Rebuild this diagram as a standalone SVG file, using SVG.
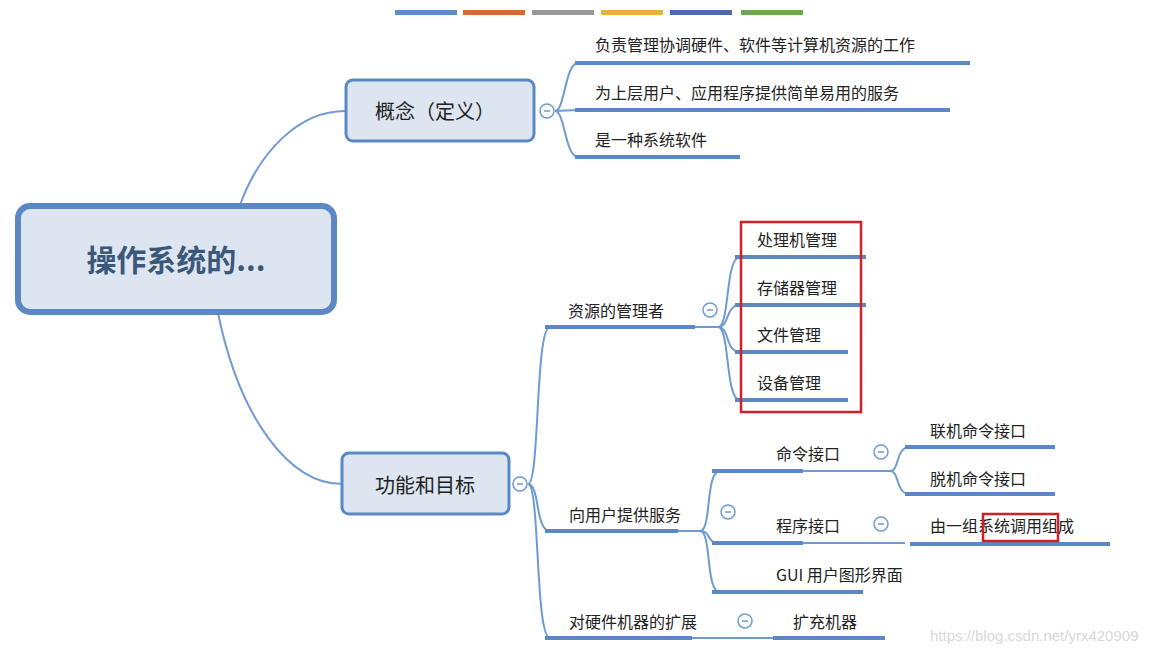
<svg xmlns="http://www.w3.org/2000/svg" width="1159" height="653" viewBox="0 0 1159 653">
<style>
text{font-family:"Noto Sans CJK SC","Liberation Sans",sans-serif;fill:#222}
.t{font-size:16px}
.u{stroke:#5b87c5;stroke-width:4;fill:none}
.b{stroke:#6f9bd0;stroke-width:2;fill:none}
.c{fill:#fff;stroke:#6f9bd0;stroke-width:1.5}
.red{fill:none;stroke:#d0202a;stroke-width:2.5}
</style>
<rect width="1159" height="653" fill="#fff"/>
<g id="bars">
<rect x="395" y="10" width="62" height="5" fill="#5b8fc8"/>
<rect x="463" y="10" width="62" height="5" fill="#d46a3a"/>
<rect x="532" y="10" width="62" height="5" fill="#999"/>
<rect x="601" y="10" width="62" height="5" fill="#e6b23a"/>
<rect x="670" y="10" width="62" height="5" fill="#4a6aab"/>
<rect x="741" y="10" width="62" height="5" fill="#6aa84f"/>
</g>
<g id="connectors">
<path class="b" d="M240 205 C260 150 300 111 345 111"/>
<path class="b" d="M218 313 C240 420 290 484 342 484"/>
<path class="b" d="M555 111 C565 111 565 63 578 63 M555 111 L578 110 M555 111 C565 111 565 157 578 157"/>
<path class="b" d="M528 484 C540 484 535 327 550 327 M528 484 C540 484 535 531 550 531 M528 484 C540 484 535 638 550 638"/>
<path class="b" d="M695 327 L718 327 M718 327 C730 327 725 257 740 257 M718 327 C730 327 725 305 740 305 M718 327 C730 327 725 352 740 352 M718 327 C730 327 725 400 740 400"/>
<path class="b" d="M678 531 L700 531 M700 531 C712 531 705 471 720 471 M700 531 C712 531 705 543 720 543 M700 531 C712 531 705 592 720 592"/>
<path class="b" d="M803 471 L890 471 M890 471 C900 471 895 447 910 447 M890 471 C900 471 895 494 910 494"/>
<path class="b" d="M803 543 L905 543"/>
<path class="b" d="M692 638 L773 638"/>
</g>
<g id="root"><rect x="18" y="206" width="316" height="106" rx="12" fill="#dde5f0" stroke="#5b87c5" stroke-width="6"/>
<text x="176" y="271" text-anchor="middle" font-size="30" font-weight="bold" style="fill:#3b5878">操作系统的...</text></g>
<g id="concept"><rect x="346" y="80" width="188" height="61" rx="7" fill="#dde5f0" stroke="#5b87c5" stroke-width="3"/>
<text x="435" y="119" text-anchor="middle" font-size="20">概念（定义）</text></g>
<g id="func"><rect x="342" y="453" width="167" height="61" rx="7" fill="#dde5f0" stroke="#5b87c5" stroke-width="3"/>
<text x="425" y="493" text-anchor="middle" font-size="20">功能和目标</text></g>
<g id="c1"><path class="u" d="M575 63 H970"/><text class="t" x="595" y="51">负责管理协调硬件、软件等计算机资源的工作</text></g>
<g id="c2"><path class="u" d="M575 110 H950"/><text class="t" x="595" y="99">为上层用户、应用程序提供简单易用的服务</text></g>
<g id="c3"><path class="u" d="M575 157 H740"/><text class="t" x="595" y="146">是一种系统软件</text></g>
<g id="f1"><path class="u" d="M545 327 H695"/><text class="t" x="568" y="317">资源的管理者</text></g>
<g id="f2"><path class="u" d="M545 531 H678"/><text class="t" x="569" y="521">向用户提供服务</text></g>
<g id="f3"><path class="u" d="M545 638 H692"/><text class="t" x="569" y="628">对硬件机器的扩展</text></g>
<g id="r1"><path class="u" d="M735 257 H866"/><text class="t" x="757" y="246">处理机管理</text></g>
<g id="r2"><path class="u" d="M735 305 H866"/><text class="t" x="757" y="294">存储器管理</text></g>
<g id="r3"><path class="u" d="M735 352 H848"/><text class="t" x="757" y="341">文件管理</text></g>
<g id="r4"><path class="u" d="M735 400 H848"/><text class="t" x="757" y="389">设备管理</text></g>
<rect class="red" x="741" y="222" width="120" height="190"/>
<g id="s1"><path class="u" d="M712 471 H803"/><text class="t" x="776" y="460">命令接口</text></g>
<g id="s2"><path class="u" d="M712 543 H803"/><text class="t" x="776" y="532">程序接口</text></g>
<g id="s3"><path class="u" d="M712 592 H863"/><text class="t" x="776" y="581">GUI 用户图形界面</text></g>
<g id="k1"><path class="u" d="M905 447 H1055"/><text class="t" x="930" y="437">联机命令接口</text></g>
<g id="k2"><path class="u" d="M905 494 H1055"/><text class="t" x="930" y="485">脱机命令接口</text></g>
<g id="p1"><path class="u" d="M910 544 H1110"/><text class="t" x="930" y="532">由一组系统调用组成</text></g>
<rect class="red" x="983" y="514" width="75" height="27"/>
<g id="e1"><path class="u" d="M773 638 H885"/><text class="t" x="793" y="628">扩充机器</text></g>
<g id="toggles">
<circle class="c" cx="547" cy="111" r="7"/><circle class="c" cx="520" cy="484" r="7"/>
<circle class="c" cx="710" cy="310" r="7"/><circle class="c" cx="728" cy="512" r="7"/>
<circle class="c" cx="881" cy="452" r="7"/><circle class="c" cx="881" cy="524" r="7"/>
<circle class="c" cx="745" cy="621" r="7"/>
<path stroke="#6f9bd0" stroke-width="1.5" d="M544 111h6M517 484h6M707 310h6M725 512h6M878 452h6M878 524h6M742 621h6"/>
</g>
<text x="930" y="641" font-size="15" style="fill:#d8d8d8;font-family:'Liberation Sans',sans-serif">https://blog.csdn.net/yrx420909</text>
</svg>
